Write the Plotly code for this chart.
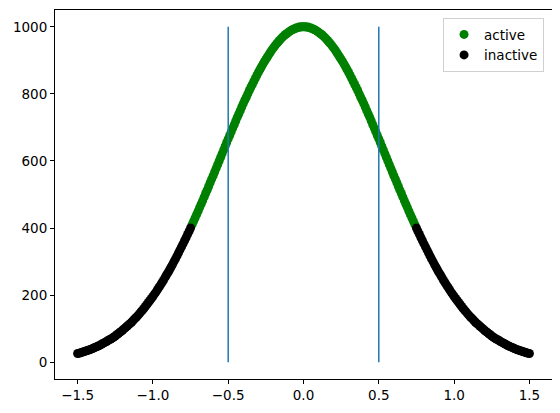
import numpy as np
import plotly.graph_objects as go

# sampling grid, -1.5 .. 1.5 in steps of 0.01
x_vals = np.round(np.linspace(-1.5, 1.5, 301), 2)

# curve heights (left to right)
y_vals = [
    26,
    27, 28, 30, 31, 33, 34, 36, 37, 39, 41,
    43, 45, 47, 49, 51, 54, 56, 59, 61, 64,
    67, 69, 72, 75, 78, 82, 85, 89, 92, 96,
    100, 104, 108, 112, 116, 120, 125, 130, 134, 139,
    144, 150, 155, 160, 166, 172, 178, 184, 190, 196,
    203, 209, 216, 223, 230, 237, 244, 252, 260, 267,
    275, 283, 291, 300, 308, 317, 326, 335, 344, 353,
    362, 371, 381, 390, 400, 410, 420, 430, 440, 450,
    461, 471, 481, 492, 503, 513, 524, 535, 546, 556,
    567, 578, 589, 600, 611, 622, 633, 644, 655, 666,
    676, 687, 698, 708, 719, 730, 740, 750, 761, 771,
    781, 790, 800, 810, 819, 828, 837, 846, 855, 864,
    872, 880, 888, 896, 903, 910, 917, 924, 931, 937,
    943, 949, 954, 959, 964, 969, 973, 977, 980, 984,
    987, 990, 992, 994, 996, 997, 999, 999, 1000,
    1000,
    1000, 999, 999, 997, 996, 994, 992, 990, 987,
    984, 980, 977, 973, 969, 964, 959, 954, 949, 943,
    937, 931, 924, 917, 910, 903, 896, 888, 880, 872,
    864, 855, 846, 837, 828, 819, 810, 800, 790, 781,
    771, 761, 750, 740, 730, 719, 708, 698, 687, 676,
    666, 655, 644, 633, 622, 611, 600, 589, 578, 567,
    556, 546, 535, 524, 513, 503, 492, 481, 471, 461,
    450, 440, 430, 420, 410, 400, 390, 381, 371, 362,
    353, 344, 335, 326, 317, 308, 300, 291, 283, 275,
    267, 260, 252, 244, 237, 230, 223, 216, 209, 203,
    196, 190, 184, 178, 172, 166, 160, 155, 150, 144,
    139, 134, 130, 125, 120, 116, 112, 108, 104, 100,
    96, 92, 89, 85, 82, 78, 75, 72, 69, 67,
    64, 61, 59, 56, 54, 51, 49, 47, 45, 43,
    41, 39, 37, 36, 34, 33, 31, 30, 28, 27,
    26,
]

active_limit = 0.75
vline_x = [-0.5, 0.5]
vline_ymin = 0
vline_ymax = 1000

y_arr = np.array(y_vals)
is_active = np.abs(x_vals) < active_limit

fig = go.Figure()

fig.add_trace(go.Scatter(
    x=x_vals[is_active], y=y_arr[is_active], mode='markers', name='active',
    marker=dict(color='green', size=9, line=dict(width=0))
))
fig.add_trace(go.Scatter(
    x=x_vals[~is_active], y=y_arr[~is_active], mode='markers', name='inactive',
    marker=dict(color='black', size=9, line=dict(width=0))
))

# vertical markers at +-0.5
for xv in vline_x:
    fig.add_trace(go.Scatter(
        x=[xv, xv], y=[vline_ymin, vline_ymax], mode='lines',
        line=dict(color='#1f77b4', width=1.5), showlegend=False
    ))

axis_style = dict(
    showgrid=False, zeroline=False, showline=True, mirror=True,
    linecolor='black', linewidth=1, ticks='outside', ticklen=4,
    tickcolor='black', tickwidth=1, automargin=False
)

# page body has an 8px margin, so the figure is 8px smaller and shifted
fig.update_layout(
    width=552, height=405,
    margin=dict(l=47, r=8, t=2, b=34),
    paper_bgcolor='white', plot_bgcolor='white',
    font=dict(family='DejaVu Sans', size=13.5, color='black'),
    showlegend=True,
    legend=dict(
        x=0.984, y=0.978, xanchor='right', yanchor='top',
        bordercolor='#d0d0d0', borderwidth=1, bgcolor='white',
        font=dict(size=13.5), itemwidth=30, tracegroupgap=0
    ),
    xaxis=dict(range=[-1.65, 1.65], tickvals=[-1.5, -1.0, -0.5, 0.0, 0.5, 1.0, 1.5],
               ticktext=['−1.5', '−1.0', '−0.5', '0.0', '0.5', '1.0', '1.5'], **axis_style),
    yaxis=dict(range=[-50, 1050], tickvals=[0, 200, 400, 600, 800, 1000], **axis_style),
)

fig.write_html("out.html")
